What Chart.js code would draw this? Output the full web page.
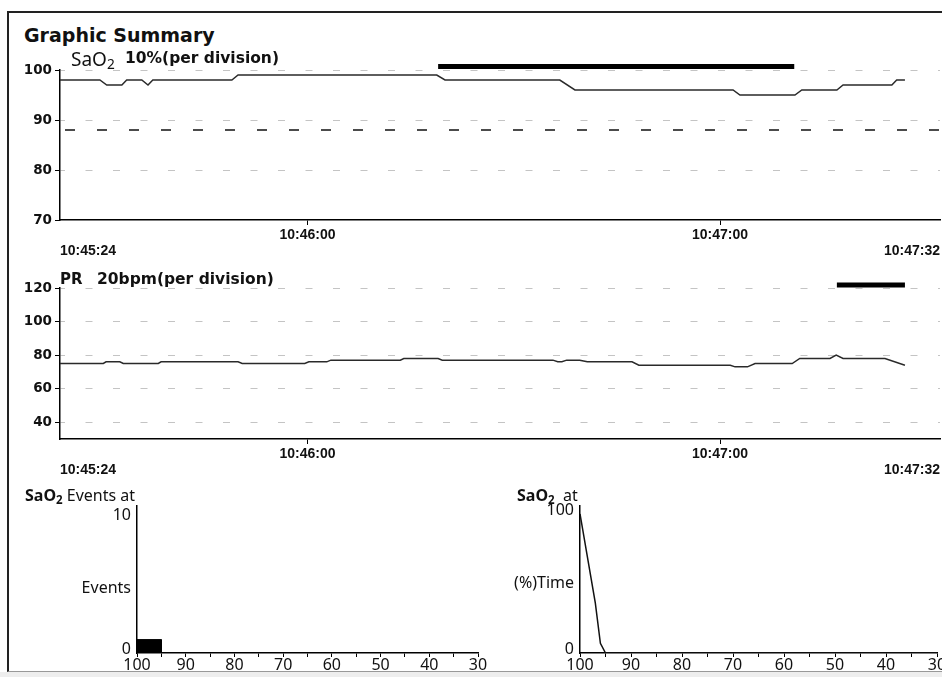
<!DOCTYPE html>
<html>
<head>
<meta charset="utf-8">
<script src="https://cdn.jsdelivr.net/npm/chart.js@4.4.0/dist/chart.umd.min.js"></script>
<style>
html, body { margin: 0; padding: 0; background: #fff; }
#page { position: relative; width: 942px; height: 677px; overflow: hidden; background: #fff; color: #111; font-family: "DejaVu Sans", sans-serif; }
#frame { position: absolute; left: 7px; top: 11px; width: 940px; height: 658px; border-left: 2px solid #222; border-top: 2px solid #222; border-bottom: 1px solid #999; }
#foot { position: absolute; left: 0; top: 672px; width: 942px; height: 5px; background: #eee; }
.t { position: absolute; white-space: nowrap; line-height: 1; }
.sb { font-size: 72%; position: relative; top: 3px; }
.box { position: absolute; }
</style>
</head>
<body>
<div id="page">
	<div id="frame"></div>
	<div id="foot"></div>

	<div class="box" style="left:0;top:55px;width:942px;height:205px"><canvas id="sao2Chart"></canvas></div>
	<div class="box" style="left:0;top:272px;width:942px;height:208px"><canvas id="prChart"></canvas></div>
	<div class="box" style="left:70px;top:490px;width:430px;height:187px"><canvas id="eventChart"></canvas></div>
	<div class="box" style="left:490px;top:490px;width:452px;height:187px"><canvas id="timeChart"></canvas></div>

	<div class="t" style="left:24px;top:24px;font:bold 19px 'DejaVu Sans'">Graphic Summary</div>
	<div class="t" style="left:71px;top:46px;font:19px 'Noto Sans'">SaO<span class="sb">2</span></div>
	<div class="t" style="left:125px;top:49px;font:bold 15.5px 'DejaVu Sans'">10%(per division)</div>
	<div class="t" style="left:60px;top:270px;font:bold 15px 'DejaVu Sans'">PR</div>
	<div class="t" style="left:97px;top:270px;font:bold 15.5px 'DejaVu Sans'">20bpm(per division)</div>
	<div class="t" style="left:25px;top:484px;font:16px 'Noto Sans'"><b>SaO<span class="sb">2</span></b> Events at</div>
	<div class="t" style="left:517px;top:484px;font:16px 'Noto Sans'"><b>SaO<span class="sb">2</span></b>&nbsp; at</div>
</div>

<script>
// time axis: seconds after 10:45:24
var timeTicks = [0, 36, 96, 128];
var timeTickLabels = ['10:45:24', '10:46:00', '10:47:00', '10:47:32'];

var sao2Times  = [0, 5.8, 6.8, 9.0, 9.7, 11.9, 12.8, 13.5, 25.0, 25.9, 54.8, 56.0, 72.7, 74.9, 97.9, 98.9, 106.9, 107.9, 113.0, 113.9, 121.0, 121.7, 122.9];
var sao2Values = [98, 98, 97, 97, 98, 98, 97, 98, 98, 99, 99, 98, 98, 96, 96, 95, 95, 96, 96, 97, 97, 98, 98];
var sao2Ticks = [70, 80, 90, 100];
var sao2Limit = 88;
var sao2MarkTimes = [55.0, 106.8];
var sao2MarkLevel = 100.7;

var prTimes  = [0, 6.3, 6.7, 8.7, 9.2, 14.3, 14.7, 25.9, 26.5, 35.6, 36.2, 38.8, 39.4, 49.5, 50.0, 55.0, 55.6, 71.7, 72.4, 73.0, 73.7, 75.6, 76.7, 83.2, 84.2, 97.5, 98.2, 100.0, 101.1, 106.5, 107.6, 112.0, 112.9, 113.9, 120.0, 122.9];
var prValues = [75, 75, 76, 76, 75, 75, 76, 76, 75, 75, 76, 76, 77, 77, 78, 78, 77, 77, 76, 76, 77, 77, 76, 76, 74, 74, 73, 73, 75, 75, 78, 78, 80, 78, 78, 74];
var prTicks = [40, 60, 80, 100, 120];
var prMarkTimes = [113.0, 122.9];
var prMarkLevel = 121.8;

// SaO2 level axis of the two lower charts
var levelTicks = [100, 95, 90, 85, 80, 75, 70, 65, 60, 55, 50, 45, 40, 35, 30];

var eventBinHigh = [100];
var eventBinLow = [95];
var eventCounts = [1];
var eventTicks = [0, 4.5, 10];
var eventTickLabels = ['0', 'Events', '10'];

var timeLevels  = [100, 97, 96, 95, 90, 80, 70, 60, 50, 40, 30];
var timePercent = [100, 36, 7, 0, 0, 0, 0, 0, 0, 0, 0];
var pctTicks = [0, 47, 100];
var pctTickLabels = ['0', '(%)Time', '100'];

function pts(xs, ys) {
	var out = [];
	for (var i = 0; i < xs.length; i++) out.push({x: xs[i], y: ys[i]});
	return out;
}

function trendChart(id, times, values, yMin, yMax, yTicks, limit, markTimes, markLevel, padTop, xHeight) {
	var tStart = timeTicks[0], tEnd = timeTicks[timeTicks.length - 1];
	var datasets = [
		{ data: pts(times, values), borderColor: '#2a2a2a', borderWidth: 1.5, pointRadius: 0, tension: 0 },
		{ data: pts(markTimes, [markLevel, markLevel]), borderColor: '#000', borderWidth: 5, pointRadius: 0, clip: false }
	];
	if (limit !== null) {
		datasets.push({ data: pts([tStart, tEnd], [limit, limit]), borderColor: '#111', borderWidth: 1.5, borderDash: [10, 22], borderDashOffset: -5, pointRadius: 0 });
	}
	return new Chart(document.getElementById(id), {
		type: 'line',
		data: { datasets: datasets },
		options: {
			responsive: true, maintainAspectRatio: false, animation: false,
			layout: { padding: { top: padTop, right: 2, left: 0, bottom: 0 } },
			plugins: { legend: { display: false }, tooltip: { enabled: false } },
			scales: {
				x: {
					type: 'linear', min: tStart, max: tEnd,
					afterBuildTicks: function(s) { s.ticks = timeTicks.map(function(v) { return {value: v}; }); },
					afterFit: function(s) { s.height = xHeight; },
					grid: { drawOnChartArea: false, tickLength: 5,
						tickColor: function(c) { return (c.tick && (c.tick.value === tStart || c.tick.value === tEnd)) ? 'rgba(0,0,0,0)' : '#000'; } },
					border: { color: '#000', width: 1.5 },
					ticks: {
						align: 'inner', autoSkip: false, maxRotation: 0, padding: 2, color: '#111',
						font: { family: 'Liberation Sans', weight: 'bold', size: 14, lineHeight: 1.15 },
						callback: function(v, i, ticks) {
							var label = timeTickLabels[i];
							return (i === 0 || i === ticks.length - 1) ? ['', label] : label;
						}
					}
				},
				y: {
					min: yMin, max: yMax,
					afterBuildTicks: function(s) { s.ticks = yTicks.map(function(v) { return {value: v}; }); },
					afterFit: function(s) { s.width = 60; },
					grid: { color: function(c) { return (c.tick && c.tick.value === yMin) ? 'rgba(0,0,0,0)' : '#c4c4c4'; },
						tickColor: '#000', tickLength: 5, tickBorderDash: [] },
					border: { color: '#000', width: 1.5, dash: [7, 20.5], dashOffset: 2.5 },
					ticks: { padding: 3, color: '#111', font: { family: 'DejaVu Sans', weight: 'bold', size: 13.5 } }
				}
			}
		}
	});
}

function levelChart(id, datasets, yMax, yTicks, yLabels, yWidth, padRight) {
	return new Chart(document.getElementById(id), {
		type: 'line',
		data: { datasets: datasets },
		options: {
			responsive: true, maintainAspectRatio: false, animation: false,
			layout: { padding: { top: 13, right: padRight, left: 0, bottom: 0 } },
			plugins: { legend: { display: false }, tooltip: { enabled: false } },
			scales: {
				x: {
					type: 'linear', reverse: true, min: 30, max: 100,
					afterBuildTicks: function(s) { s.ticks = levelTicks.map(function(v) { return {value: v}; }); },
					afterFit: function(s) { s.height = 24; s.paddingLeft = 0; s.paddingRight = 0; },
					grid: { drawOnChartArea: false, tickLength: 4, tickColor: '#000' },
					border: { color: '#000', width: 1.5 },
					ticks: {
						autoSkip: false, maxRotation: 0, padding: 0, color: '#111',
						font: { family: 'Noto Sans', size: 16, lineHeight: 1 },
						callback: function(v) { return v % 10 === 0 ? String(v) : ''; }
					}
				},
				y: {
					min: 0, max: yMax,
					afterBuildTicks: function(s) { s.ticks = yTicks.map(function(v) { return {value: v}; }); },
					afterFit: function(s) { s.width = yWidth; },
					grid: { display: false, drawTicks: false, tickLength: 0 },
					border: { color: '#000', width: 1.5 },
					ticks: {
						padding: 6, labelOffset: -4, color: '#111',
						font: { family: 'Noto Sans', size: 16 },
						callback: function(v, i) { return yLabels[i]; }
					}
				}
			}
		}
	});
}

trendChart('sao2Chart', sao2Times, sao2Values, 70, 100, sao2Ticks, sao2Limit, sao2MarkTimes, sao2MarkLevel, 15, 40);
trendChart('prChart', prTimes, prValues, 30, 120, prTicks, null, prMarkTimes, prMarkLevel, 16, 41);

// event histogram: each bin drawn as a filled outline
var eventSets = [];
for (var i = 0; i < eventCounts.length; i++) {
	eventSets.push({
		data: pts([eventBinHigh[i], eventBinHigh[i], eventBinLow[i], eventBinLow[i]], [0, eventCounts[i], eventCounts[i], 0]),
		borderColor: '#000', backgroundColor: '#000', borderWidth: 1, pointRadius: 0, fill: 'origin'
	});
}
levelChart('eventChart', eventSets, 11, eventTicks, eventTickLabels, 67, 22);

levelChart('timeChart', [{
	data: pts(timeLevels, timePercent), borderColor: '#111', borderWidth: 1.5, pointRadius: 0, tension: 0
}], 106, pctTicks, pctTickLabels, 90, 5);
</script>
</body>
</html>
